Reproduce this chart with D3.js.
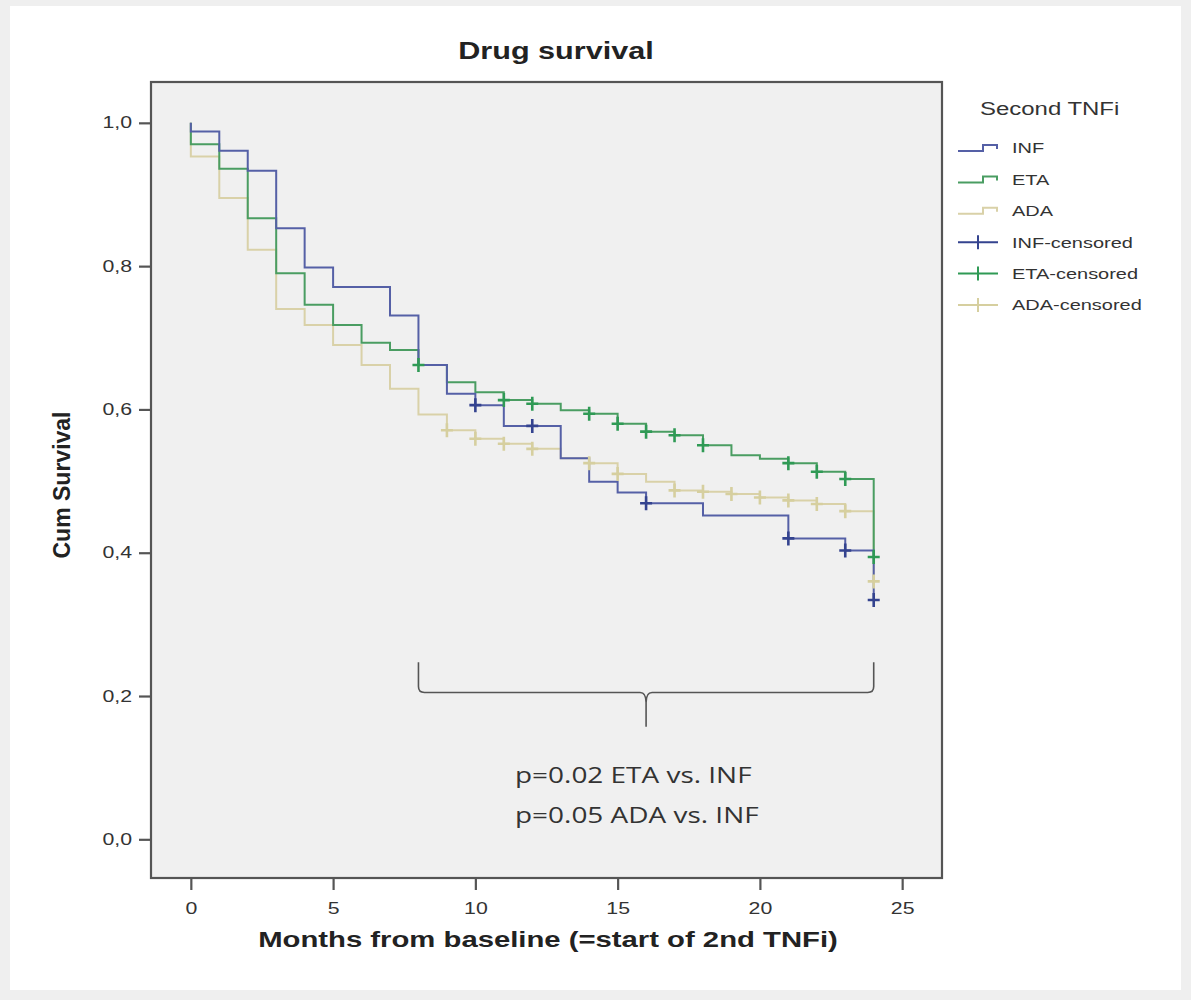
<!DOCTYPE html>
<html>
<head>
<meta charset="utf-8">
<script src="https://cdn.jsdelivr.net/npm/d3@7/dist/d3.min.js"></script>
<style>
  html, body { margin: 0; padding: 0; background: #efefef; }
  svg { display: block; }
</style>
</head>
<body>
<svg id="chart" width="1191" height="1000"></svg>
<script>
// ---- data ----
const months = d3.range(0, 25); // 0..24
const infValues = [0.988,0.961,0.933,0.853,0.798,0.771,0.771,0.731,0.662,0.622,0.606,0.577,0.577,0.532,0.499,0.484,0.469,0.469,0.452,0.452,0.452,0.420,0.420,0.403,0.334];
const etaValues = [0.970,0.936,0.867,0.790,0.746,0.718,0.693,0.683,0.662,0.638,0.624,0.613,0.608,0.599,0.594,0.580,0.569,0.564,0.550,0.536,0.531,0.525,0.513,0.503,0.394];
const adaValues = [0.953,0.895,0.823,0.740,0.718,0.690,0.662,0.629,0.593,0.571,0.559,0.552,0.545,0.532,0.525,0.510,0.499,0.487,0.485,0.482,0.477,0.473,0.468,0.458,0.360];
const infCensored = [10,12,16,21,23,24];
const etaCensored = [8,11,12,14,15,16,17,18,21,22,23,24];
const adaCensored = [9,10,11,12,14,15,17,18,19,20,21,22,23,24];
const seriesNames = ["INF","ETA","ADA"];
const legendLabels = ["INF","ETA","ADA","INF-censored","ETA-censored","ADA-censored"];
const xTicks = [0,5,10,15,20,25];
const yTicks = [0,0.2,0.4,0.6,0.8,1.0];
const annotationLines = ["p=0.02 ETA vs. INF","p=0.05 ADA vs. INF"];
const braceRange = {from: 8, to: 24, mid: 16, top: 0.247, bar: 0.205, tip: 0.157};

// ---- styles ----
const lineColors = {INF:"#5560a6", ETA:"#4a9d62", ADA:"#d9d1a8"};
const censorColors = {INF:"#34438f", ETA:"#2f9a55", ADA:"#d6cf9f"};
const STRETCH = 1.33;
const FONT = "'Liberation Sans', Arial, sans-serif";

const svg = d3.select("#chart");
// white card
svg.append("rect").attr("x",10).attr("y",6).attr("width",1171).attr("height",984).attr("fill","#ffffff");

const margin = {left:151, right:942, top:82, bottom:878};
const x = d3.scaleLinear().domain([-1.4, 26.4]).range([margin.left, margin.right]);
const y = d3.scaleLinear().domain([-0.054, 1.057]).range([margin.bottom, margin.top]);

// plot background
svg.append("rect").attr("x",margin.left).attr("y",margin.top)
  .attr("width",margin.right-margin.left).attr("height",margin.bottom-margin.top)
  .attr("fill","#f0f0f0");

function stretchText(sel, factor){
  sel.each(function(){
    const len = this.getComputedTextLength();
    d3.select(this).attr("textLength", len*factor).attr("lengthAdjust","spacingAndGlyphs");
  });
}

// axes
const yAxis = svg.append("g").attr("transform",`translate(${margin.left},0)`)
  .call(d3.axisLeft(y).tickValues(yTicks).tickSize(12).tickPadding(7)
    .tickFormat(d => d3.format(".1f")(d).replace(".", ",")));
const xAxis = svg.append("g").attr("transform",`translate(0,${margin.bottom})`)
  .call(d3.axisBottom(x).tickValues(xTicks).tickSize(12).tickPadding(13).tickFormat(d3.format("d")));
[yAxis, xAxis].forEach(g => {
  g.select(".domain").remove();
  g.selectAll(".tick line").attr("stroke","#555").attr("stroke-width",2.2);
  g.selectAll(".tick text").attr("fill","#333").style("font-family",FONT).style("font-size","16px");
});
stretchText(yAxis.selectAll(".tick text"), STRETCH);
stretchText(xAxis.selectAll(".tick text"), STRETCH);

// frame
svg.append("rect").attr("x",margin.left).attr("y",margin.top)
  .attr("width",margin.right-margin.left).attr("height",margin.bottom-margin.top)
  .attr("fill","none").attr("stroke","#555").attr("stroke-width",2.2);

// curves
const valuesBy = {INF: infValues, ETA: etaValues, ADA: adaValues};
const censBy = {INF: infCensored, ETA: etaCensored, ADA: adaCensored};
const line = d3.line().x(d => x(d[0])).y(d => y(d[1])).curve(d3.curveStepAfter);
const drawOrder = ["ADA","ETA","INF"];
drawOrder.forEach(name => {
  const vals = valuesBy[name];
  const pts = [[0, 1.0]].concat(months.map((m,i) => [m, vals[i]]));
  svg.append("path").attr("d", line(pts)).attr("fill","none")
    .attr("stroke", lineColors[name]).attr("stroke-width", 2);
});
drawOrder.forEach(name => {
  const vals = valuesBy[name];
  const g = svg.append("g");
  censBy[name].forEach(t => {
    const cx = x(t), cy = y(vals[months.indexOf(t)]);
    g.append("path").attr("d", `M${cx-6},${cy}H${cx+6}M${cx},${cy-7}V${cy+7}`)
      .attr("stroke", censorColors[name]).attr("stroke-width", 2.6).attr("fill","none");
  });
});

// title
const title = svg.append("text").attr("x",556).attr("y",59).attr("text-anchor","middle")
  .style("font-family",FONT).style("font-size","23px").style("font-weight","bold").attr("fill","#222")
  .text("Drug survival");
stretchText(title, STRETCH);

// axis titles
const xTitle = svg.append("text").attr("x",548).attr("y",947).attr("text-anchor","middle")
  .style("font-family",FONT).style("font-size","22px").style("font-weight","bold").attr("fill","#222")
  .text("Months from baseline (=start of 2nd TNFi)");
stretchText(xTitle, STRETCH);
svg.append("text").attr("transform","translate(70,485) rotate(-90)").attr("text-anchor","middle")
  .style("font-family",FONT).style("font-size","23px").style("font-weight","bold").attr("fill","#222")
  .text("Cum Survival");

// legend
const legTitle = svg.append("text").attr("x",980).attr("y",115)
  .style("font-family",FONT).style("font-size","18px").attr("fill","#333").text("Second TNFi");
stretchText(legTitle, STRETCH);
const legColors = [lineColors.INF, lineColors.ETA, lineColors.ADA, censorColors.INF, censorColors.ETA, censorColors.ADA];
legendLabels.forEach((lab, i) => {
  const cy = 148 + i*31.4;
  if (i < 3) {
    svg.append("path").attr("d", `M958,${cy+3}H983V${cy-3}H997V${cy+1}`)
      .attr("fill","none").attr("stroke",legColors[i]).attr("stroke-width",2);
  } else {
    svg.append("path").attr("d", `M958,${cy}H998M978,${cy-7}V${cy+7}`)
      .attr("fill","none").attr("stroke",legColors[i]).attr("stroke-width",2);
  }
  const t = svg.append("text").attr("x",1012).attr("y",cy).attr("dy","0.36em")
    .style("font-family",FONT).style("font-size","15px").attr("fill","#333").text(lab);
  stretchText(t, STRETCH);
});

// brace
const bx0 = x(braceRange.from), bx1 = x(braceRange.to), bxm = x(braceRange.mid);
const byTop = y(braceRange.top), byBar = y(braceRange.bar), byTip = y(braceRange.tip);
const r = 6;
svg.append("path")
  .attr("d", `M${bx0},${byTop} V${byBar-r} Q${bx0},${byBar} ${bx0+r},${byBar} H${bxm-r} Q${bxm},${byBar} ${bxm},${byBar+r+4} V${byTip}
              M${bx1},${byTop} V${byBar-r} Q${bx1},${byBar} ${bx1-r},${byBar} H${bxm+r} Q${bxm},${byBar} ${bxm},${byBar+r+4}`)
  .attr("fill","none").attr("stroke","#555").attr("stroke-width",1.6);

// annotation
annotationLines.forEach((txt, i) => {
  const t = svg.append("text").attr("x",515).attr("y",783 + i*40)
    .style("font-family","'Open Sans', sans-serif").style("font-size","22px").attr("fill","#333").text(txt);
  stretchText(t, 1.27);
});
</script>
</body>
</html>
